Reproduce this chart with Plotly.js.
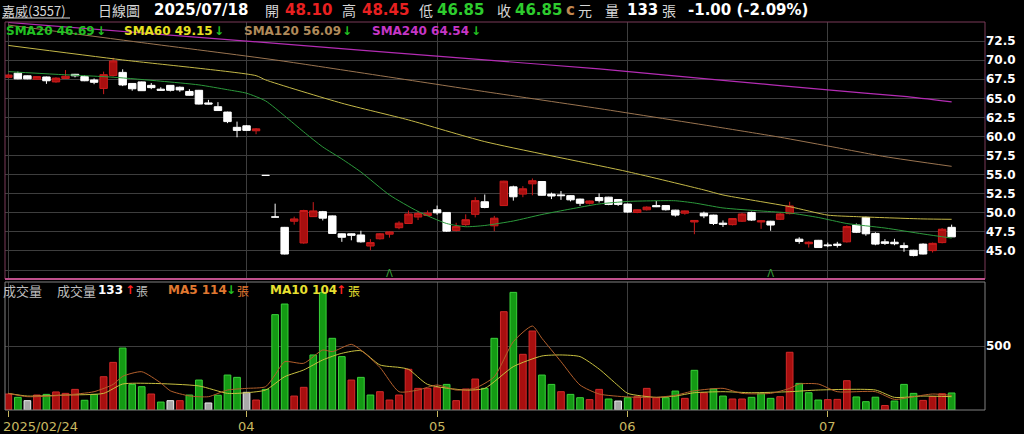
<!DOCTYPE html>
<html><head><meta charset="utf-8">
<script src="https://cdn.plot.ly/plotly-3.0.1.min.js"></script>
<style>html,body{margin:0;padding:0;background:#000;}#chart{width:1024px;height:434px;}</style>
</head><body><div id="chart"></div>
<script>
// ---- data ----
const openP = [67.75,68.3,67.95,67.5,67.8,67.15,67.6,68.15,67.85,67.4,
66.3,68.0,68.4,66.95,67.15,66.7,66.2,66.7,66.45,65.9,
66.05,64.4,63.9,63.2,61.2,61.4,60.75,54.9,49.45,48.1,
48.9,46.05,49.5,50.15,49.6,47.25,47.25,47.1,45.65,46.6,
47.2,48.05,48.6,49.45,49.65,50.4,50.05,47.7,48.45,49.8,
51.45,48.3,50.95,53.4,52.45,53.8,54.1,52.45,52.35,52.25,
51.8,51.25,52.0,52.05,51.75,51.15,50.05,50.4,50.95,50.95,
50.35,49.95,48.8,49.95,49.7,48.65,48.45,48.9,50.05,48.8,
48.9,49.15,49.9,46.55,45.95,46.4,45.8,45.9,46.2,48.4,
49.4,47.3,46.2,46.15,45.7,45.1,45.9,45.05,46.1,48.1];
const highP = [68.2,68.5,68.0,67.9,67.85,67.75,68.7,68.2,68.0,67.6,
68.5,70.3,68.8,67.0,67.2,67.0,66.45,66.75,66.55,66.2,
66.1,64.8,64.5,63.25,61.95,61.5,61.1,54.9,51.2,48.15,
49.5,50.4,51.4,50.25,49.65,47.3,47.3,47.65,46.55,47.35,
47.55,48.9,50.3,50.25,50.3,50.95,50.1,48.7,49.8,52.05,
52.4,49.6,54.2,53.55,53.5,54.5,54.15,52.65,52.85,52.3,
51.85,51.6,52.55,52.1,51.8,51.2,50.45,50.85,51.55,51.0,
50.4,50.3,49.05,50.15,49.75,49.0,49.3,50.0,50.15,49.0,
48.95,50.0,51.45,46.8,46.25,46.45,46.1,46.2,48.35,48.6,
49.5,47.45,46.55,46.6,46.1,45.15,46.0,46.1,48.0,48.45];
const lowP = [67.65,67.5,67.5,67.45,66.9,67.05,67.55,67.75,67.25,66.85,
65.55,67.85,66.6,66.0,66.0,66.2,66.0,65.9,65.85,65.35,
64.2,64.2,63.35,61.75,59.9,60.75,60.3,54.9,49.45,44.55,
48.45,45.95,49.45,49.0,47.25,46.2,46.4,46.1,45.1,46.5,
46.75,47.85,48.55,49.05,49.6,49.75,47.5,47.55,48.3,49.4,
50.6,47.6,50.9,51.6,52.05,52.3,52.25,51.8,51.7,51.5,
50.9,51.1,51.35,51.0,50.9,50.0,49.95,50.3,50.75,50.3,
49.5,49.75,47.2,49.3,48.4,48.15,48.35,48.8,48.95,47.9,
47.65,49.05,49.8,45.95,45.45,45.4,45.5,45.45,46.1,47.35,
47.0,45.75,45.8,45.75,44.9,44.3,44.55,44.8,46.0,46.85];
const closeP = [68.05,67.55,67.55,67.85,67.3,67.65,67.9,67.95,67.3,67.1,
68.1,69.9,66.75,66.25,66.0,66.4,66.05,66.05,66.1,65.4,
64.25,64.25,63.4,61.95,60.8,60.8,61.0,54.9,49.45,44.6,
49.2,50.3,50.25,49.3,47.3,46.8,47.05,46.2,46.1,47.25,
47.5,48.65,49.85,49.9,49.95,50.0,47.6,48.2,49.1,51.6,
50.7,49.3,54.15,52.1,53.15,54.2,52.3,52.2,52.25,51.7,
51.25,51.55,51.6,51.1,51.1,50.1,50.4,50.75,50.8,50.4,
49.7,50.25,49.0,49.6,48.6,48.5,49.25,49.85,49.05,48.95,
48.4,49.85,50.9,46.25,46.15,45.45,45.7,45.75,48.2,47.45,
47.25,45.9,46.0,45.95,45.45,44.4,44.6,46.0,47.85,46.85];
const prevClose0 = 67.9;
const volume = [125,99,73,117,122,141,130,161,76,122,
260,372,484,200,182,125,62,73,73,117,
234,55,115,273,255,138,78,161,745,828,
109,177,430,917,560,417,234,255,117,143,
78,117,318,169,169,177,200,73,164,242,
169,560,768,919,435,617,273,200,143,122,
96,81,161,86,70,96,104,169,96,96,
148,91,310,135,164,109,86,86,99,130,
91,104,451,208,135,78,81,83,229,102,
65,100,35,70,200,130,75,105,127,133];

const sma20Idx = [0,5,11,16,20,23,25,27,29,31,33,35,37,40,43,46,48,50,53,56,59,62,65,68,70,72,75,79,82,85,88,92,96,99];
const sma20Val = [68.5,68.15,67.77,67.25,66.76,66.13,65.67,64.66,62.69,60.6,58.63,57.06,55.35,52.34,50.18,48.6,48.18,48.34,48.93,49.78,50.5,51.16,51.49,51.58,51.58,51.29,50.64,50.24,49.98,49.39,48.6,48.01,47.23,46.69];
const sma60Idx = [0,12,26,27,35,42,50,65,73,75,82,86,89,96,99];
const sma60Val = [71.93,70.03,67.97,67.41,64.36,62.17,59.33,55.39,53.0,52.34,50.81,49.7,49.5,49.2,49.15];
const sma120Idx = [0,14,28,50,62,75,81,86,92,99];
const sma120Val = [74.6,72.3,70.03,65.88,63.66,61.12,59.9,58.76,57.36,56.09];
const sma240Idx = [0,25,50,62,75,86,94,99];
const sma240Val = [74.94,72.5,70.03,68.85,67.35,66.1,65.25,64.54];

const ma5Idx = [0,2,6,9,11,12,14,16,17,19,21,23,25,27,28,29,31,33,34,36,37,39,41,43,45,47,49,51,53,55,56,58,60,62,65,68,70,72,75,77,80,82,83,85,87,91,93,95,97,99];
const ma5Val = [130,104,117,143,200,263,299,211,150,110,104,156,169,182,275,377,365,469,456,513,469,333,143,156,195,156,171,260,534,656,560,378,195,125,102,99,115,150,169,130,130,169,203,203,143,143,83,104,125,114];
const ma10Idx = [0,2,6,10,12,15,20,23,25,27,29,31,33,35,37,39,41,42,44,48,50,53,56,58,60,62,64,65,68,70,72,75,78,82,85,91,93,96,99];
const ma10Val = [130,109,117,130,203,208,188,130,135,156,260,313,391,443,463,352,333,318,200,156,169,339,422,430,417,320,190,130,99,109,135,143,135,143,156,156,99,109,104];

const tickIdx = [0,25,45,65,86];
const tickText = ['2025/02/24','04','05','06','07'];
const priceTicks = [42.5,45,47.5,50,52.5,55,57.5,60,62.5,65,67.5,70,72.5];
const priceLabels = ['','45.0','47.5','50.0','52.5','55.0','57.5','60.0','62.5','65.0','67.5','70.0','72.5'];
const volTicks = [500];
const volLabels = ['500'];
const markIdx = [40,80];

// ---- layout helpers ----
const W=1024,H=434,L=5,R=39,T=22,B=24;
const PW=W-L-R, PH=H-T-B;
const px = x => (x-L)/PW;
const py = y => (H-B-y)/PH;
const priceDom = [py(279),1];
const volDom = [0,py(282)];
const priceRange = [41.33,75.0];

const N = closeP.length;
const idx = Array.from({length:N},(_,i)=>i);
const dir = closeP.map((c,i)=>{const p = i? closeP[i-1] : prevClose0; return c>p?1:(c<p?-1:0);});
const volFill = dir.map(d=> d>0?'#a80f0f':(d<0?'#149a14':'#a8a8a8'));
const volLine = dir.map(d=> d>0?'#d22a2a':(d<0?'#3ad23a':'#eeeeee'));

const NUM = 'DejaVu Sans';
const CJK = 'Noto Sans CJK TC';

const traces = [
  {type:'candlestick', x:idx, open:openP, high:highP, low:lowP, close:closeP,
   xaxis:'x', yaxis:'y', whiskerwidth:0, hoverinfo:'skip',
   increasing:{line:{color:'#cc1c1c',width:1}, fillcolor:'#a80f0f'},
   decreasing:{line:{color:'#ffffff',width:1}, fillcolor:'#ffffff'}},
  {type:'scatter', mode:'lines', x:sma240Idx, y:sma240Val, line:{color:'#b42cb4',width:1.2,shape:'spline',smoothing:0.6}, hoverinfo:'skip', xaxis:'x', yaxis:'y'},
  {type:'scatter', mode:'lines', x:sma120Idx, y:sma120Val, line:{color:'#9a7450',width:1,shape:'spline',smoothing:0.6}, hoverinfo:'skip', xaxis:'x', yaxis:'y'},
  {type:'scatter', mode:'lines', x:sma60Idx, y:sma60Val, line:{color:'#c4b848',width:1,shape:'spline',smoothing:0.6}, hoverinfo:'skip', xaxis:'x', yaxis:'y'},
  {type:'scatter', mode:'lines', x:sma20Idx, y:sma20Val, line:{color:'#2c9a3c',width:1,shape:'spline',smoothing:0.6}, hoverinfo:'skip', xaxis:'x', yaxis:'y'},
  {type:'scatter', mode:'text', x:markIdx, y:markIdx.map(()=>priceRange[0]+0.55), text:markIdx.map(()=>'Λ'),
   textfont:{family:NUM,size:10,color:'#3aa03a'}, hoverinfo:'skip', xaxis:'x', yaxis:'y'},
  {type:'bar', x:idx, y:volume, width:0.7, xaxis:'x', yaxis:'y2', hoverinfo:'skip',
   marker:{color:volFill, line:{color:volLine,width:1}}},
  {type:'scatter', mode:'lines', x:ma10Idx, y:ma10Val, line:{color:'#c8c040',width:1,shape:'spline',smoothing:0.6}, hoverinfo:'skip', xaxis:'x', yaxis:'y2'},
  {type:'scatter', mode:'lines', x:ma5Idx, y:ma5Val, line:{color:'#b4602c',width:1,shape:'spline',smoothing:0.6}, hoverinfo:'skip', xaxis:'x', yaxis:'y2'}
];

function txt(x,y,text,color,size,family,bold){
  return {xref:'paper',yref:'paper',x:px(x),y:py(y),xanchor:'left',yanchor:'middle',
    text: bold?'<b>'+text+'</b>':text, showarrow:false, borderpad:0,
    font:{family:family,size:size,color:color}};
}
const LBL='#d6d6d6', RED='#e82020', GRN='#2ecc2e';
const ann = [
  txt(1,10,'嘉威(3557)',LBL,13,CJK,false),
  txt(97,10,'日線圖',LBL,14,CJK,false),
  txt(153,10,'2025/07/18','#ffffff',15,NUM,true),
  txt(264,10,'開',LBL,14,CJK,false),
  txt(284,10,'48.10',RED,15,NUM,true),
  txt(341,10,'高',LBL,14,CJK,false),
  txt(361,10,'48.45',RED,15,NUM,true),
  txt(418,10,'低',LBL,14,CJK,false),
  txt(436,10,'46.85',GRN,15,NUM,true),
  txt(496,10,'收',LBL,14,CJK,false),
  txt(514,10,'46.85',GRN,15,NUM,true),
  txt(565,10,'c','#c08850',15,NUM,true),
  txt(577,10,'元',LBL,14,CJK,false),
  txt(604,10,'量',LBL,14,CJK,false),
  txt(626,10,'133','#ffffff',15,NUM,true),
  txt(661,10,'張',LBL,14,CJK,false),
  txt(687,10,'-1.00 (-2.09%)','#ffffff',15,NUM,true),

  txt(5,31,'SMA20 46.69','#22c022',12,NUM,true),
  txt(95,31,'↓','#22c022',12,NUM,true),
  txt(123,31,'SMA60 49.15','#e6e020',12,NUM,true),
  txt(213,31,'↓','#22c022',12,NUM,true),
  txt(243,31,'SMA120 56.09','#b08a5a',12,NUM,true),
  txt(341,31,'↓','#22c022',12,NUM,true),
  txt(371,31,'SMA240 64.54','#c636c6',12,NUM,true),
  txt(470,31,'↓','#22c022',12,NUM,true),

  txt(2,290,'成交量','#bdbdbd',13,CJK,false),
  txt(56,290,'成交量','#bdbdbd',13,CJK,false),
  txt(97,290,'133','#ffffff',12,NUM,true),
  txt(124,290,'↑','#ff2020',12,NUM,true),
  txt(135,290,'張','#bdbdbd',12,CJK,false),
  txt(167,290,'MA5 114','#e07830',12,NUM,true),
  txt(225,290,'↓','#22c022',12,NUM,true),
  txt(236,290,'張','#e07830',12,CJK,false),
  txt(269,290,'MA10 104','#e8e030',12,NUM,true),
  txt(335,290,'↑','#ff2020',12,NUM,true),
  txt(347,290,'張','#e8e030',12,CJK,false)
];
tickIdx.forEach((t,k)=>{
  ann.push({xref:'x',yref:'paper',x:t,y:py(426),xanchor:k===0?'left':'center',yanchor:'middle',
    xshift:k===0?-6:0,text:tickText[k],showarrow:false,borderpad:0,
    font:{family:NUM,size:13,color:'#c8b860'}});
});

const shapes = [
  {type:'rect',xref:'paper',yref:'paper',x0:0,x1:1,y0:priceDom[0],y1:1,line:{color:'#7a3a58',width:1}},
  {type:'line',xref:'paper',yref:'paper',x0:0,x1:1,y0:priceDom[0],y1:priceDom[0],line:{color:'#c0508c',width:2}},
  {type:'rect',xref:'paper',yref:'paper',x0:0,x1:1,y0:0,y1:volDom[1],line:{color:'#808080',width:1}},
  {type:'line',xref:'paper',yref:'paper',x0:px(2),x1:px(70),y0:py(18),y1:py(18),line:{color:'#d6d6d6',width:1}}
];

const layout = {
  width:W,height:H,margin:{l:L,r:R,t:T,b:B,pad:0},
  paper_bgcolor:'#000',plot_bgcolor:'#000',showlegend:false,
  boxgap:0.22, boxgroupgap:0,
  xaxis:{range:[-0.35,102.5],anchor:'y2',showticklabels:false,tickvals:tickIdx,ticks:'outside',ticklen:6,
    tickcolor:'#c8b860',showgrid:true,gridcolor:'#3e3e3e',gridwidth:1,zeroline:false,showline:false,
    rangeslider:{visible:false},fixedrange:true},
  yaxis:{domain:priceDom,range:priceRange,side:'right',tickvals:priceTicks,ticktext:priceLabels,
    showgrid:true,gridcolor:'#3e3e3e',gridwidth:1,zeroline:false,showline:false,ticks:'',
    tickfont:{family:NUM,size:12,color:'#ffffff',weight:'bold'},fixedrange:true},
  yaxis2:{domain:volDom,range:[0,1000],side:'right',tickvals:volTicks,ticktext:volLabels,
    showgrid:true,gridcolor:'#3e3e3e',gridwidth:1,zeroline:false,showline:false,ticks:'',
    tickfont:{family:NUM,size:12,color:'#ffffff',weight:'bold'},fixedrange:true},
  annotations:ann, shapes:shapes
};
Plotly.newPlot('chart',traces,layout,{staticPlot:true,displayModeBar:false});
</script></body></html>
